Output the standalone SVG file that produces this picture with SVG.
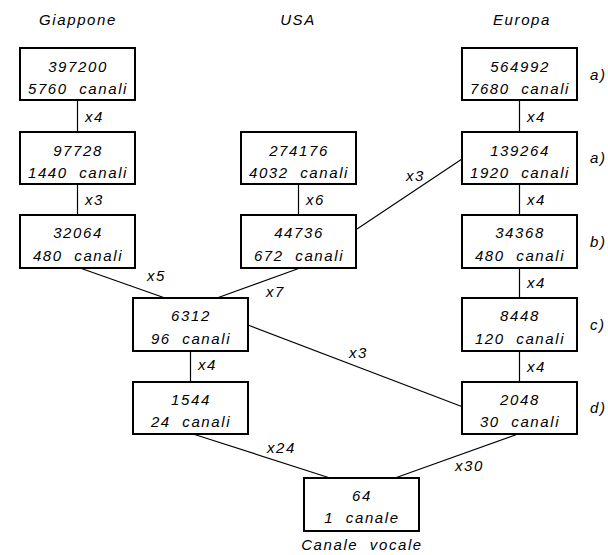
<svg xmlns="http://www.w3.org/2000/svg" width="608" height="555" viewBox="0 0 608 555" xml:space="preserve">
<style>
.box{fill:#fff;stroke:#000;stroke-width:2}
.ln{stroke:#000;stroke-width:1.2;fill:none}
text{font-family:"Liberation Sans",Arial,sans-serif;font-style:italic;font-size:15px;fill:#000;letter-spacing:1.6px;white-space:pre}
.c{text-anchor:middle}
</style>
<rect width="608" height="555" fill="#fff"/>
<g id="headers">
<text class="c" x="78" y="25">Giappone</text>
<text class="c" x="298" y="25">USA</text>
<text class="c" x="522" y="25">Europa</text>
</g>
<g id="connectors">
<line class="ln" x1="77.5" y1="100" x2="77.5" y2="132"/>
<line class="ln" x1="77.5" y1="184" x2="77.5" y2="215"/>
<line class="ln" x1="298.5" y1="184" x2="298.5" y2="215"/>
<line class="ln" x1="519.5" y1="100" x2="519.5" y2="132"/>
<line class="ln" x1="519.5" y1="184" x2="519.5" y2="215"/>
<line class="ln" x1="519.5" y1="268" x2="519.5" y2="298"/>
<line class="ln" x1="519.5" y1="351" x2="519.5" y2="382"/>
<line class="ln" x1="190.5" y1="351" x2="190.5" y2="382"/>
<line class="ln" x1="80" y1="268" x2="165" y2="298"/>
<line class="ln" x1="300" y1="268" x2="217" y2="298"/>
<line class="ln" x1="357" y1="229" x2="462" y2="159"/>
<line class="ln" x1="248" y1="325" x2="463" y2="407"/>
<line class="ln" x1="193" y1="434" x2="330" y2="478"/>
<line class="ln" x1="518" y1="434" x2="395" y2="478"/>
<text x="85" y="122">x4</text>
<text x="85" y="205">x3</text>
<text x="306" y="205">x6</text>
<text x="527" y="122">x4</text>
<text x="527" y="205">x4</text>
<text x="527" y="288">x4</text>
<text x="527" y="372">x4</text>
<text x="198" y="370">x4</text>
<text x="147" y="281">x5</text>
<text x="266" y="297">x7</text>
<text x="406" y="181">x3</text>
<text x="349" y="358">x3</text>
<text x="267" y="453">x24</text>
<text x="455" y="471">x30</text>
</g>
<g id="n397200"><rect class="box" x="20" y="48" width="115" height="52"/><text class="c" x="78" y="72">397200</text><text class="c" x="78" y="94">5760  canali</text></g>
<g id="n97728"><rect class="box" x="20" y="132" width="115" height="52"/><text class="c" x="78" y="156">97728</text><text class="c" x="78" y="178">1440  canali</text></g>
<g id="n32064"><rect class="box" x="20" y="215" width="115" height="53"/><text class="c" x="78" y="238">32064</text><text class="c" x="78" y="261">480  canali</text></g>
<g id="n274176"><rect class="box" x="241" y="132" width="115" height="52"/><text class="c" x="299" y="156">274176</text><text class="c" x="299" y="178">4032  canali</text></g>
<g id="n44736"><rect class="box" x="241" y="215" width="115" height="53"/><text class="c" x="299" y="238">44736</text><text class="c" x="299" y="261">672  canali</text></g>
<g id="n6312"><rect class="box" x="133" y="298" width="115" height="53"/><text class="c" x="191" y="321">6312</text><text class="c" x="191" y="344">96  canali</text></g>
<g id="n1544"><rect class="box" x="133" y="382" width="115" height="52"/><text class="c" x="191" y="405">1544</text><text class="c" x="191" y="427">24  canali</text></g>
<g id="n64"><rect class="box" x="304" y="478" width="115" height="53"/><text class="c" x="362" y="501">64</text><text class="c" x="362" y="523">1  canale</text></g>
<text class="c" x="362" y="550">Canale  vocale</text>
<g id="n564992"><rect class="box" x="462" y="48" width="115" height="52"/><text class="c" x="520" y="72">564992</text><text class="c" x="520" y="94">7680  canali</text><text x="590" y="80">a)</text></g>
<g id="n139264"><rect class="box" x="462" y="132" width="115" height="52"/><text class="c" x="520" y="156">139264</text><text class="c" x="520" y="178">1920  canali</text><text x="590" y="163">a)</text></g>
<g id="n34368"><rect class="box" x="462" y="215" width="115" height="53"/><text class="c" x="520" y="238">34368</text><text class="c" x="520" y="261">480  canali</text><text x="590" y="247">b)</text></g>
<g id="n8448"><rect class="box" x="462" y="298" width="115" height="53"/><text class="c" x="520" y="321">8448</text><text class="c" x="520" y="344">120  canali</text><text x="590" y="330">c)</text></g>
<g id="n2048"><rect class="box" x="462" y="382" width="115" height="52"/><text class="c" x="520" y="405">2048</text><text class="c" x="520" y="427">30  canali</text><text x="590" y="413">d)</text></g>
</svg>
